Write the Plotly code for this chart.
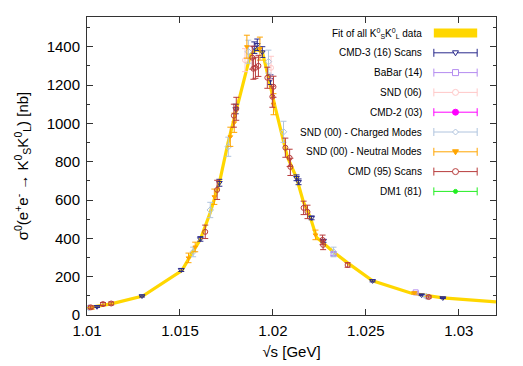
import plotly.graph_objects as go

# fit of all K0S K0L data
fit_x = [1.0100, 1.0103, 1.0113, 1.0130, 1.0151, 1.01555, 1.0161, 1.01663, 1.01712, 1.0176,
         1.01809, 1.01879, 1.0191, 1.01943, 1.01976, 1.02013, 1.02078, 1.02127, 1.02164,
         1.02202, 1.02235, 1.02267, 1.02326, 1.02402, 1.02536, 1.02741, 1.02914, 1.0320]
fit_y = [37, 42, 58, 99, 232, 306, 395, 535, 690, 905, 1087, 1358, 1385, 1374, 1238, 1081,
         825, 716, 590, 507, 405, 378, 329, 272, 178, 115, 89, 68]

# CMD-3 (16) scans
cmd3_x = [1.01054, 1.01296, 1.01507, 1.01610, 1.01712, 1.01800, 1.01900, 1.01916, 1.01943,
          1.01987, 1.02127, 1.02138, 1.02208, 1.02272, 1.02536, 1.02800, 1.02914]
cmd3_y = [43, 99, 235, 397, 690, 1075, 1395, 1410, 1372, 1228, 716, 695, 507, 387, 178, 104, 89]
cmd3_err = [4, 5, 8, 12, 18, 25, 30, 30, 28, 25, 15, 15, 10, 8, 5, 3, 3]

# BaBar (14)
babar_x = [1.02326, 1.02768]
babar_y = [318, 118]
babar_err = [8, 4]

# SND (06)
snd06_x = [1.01850, 1.01990]
snd06_y = [1330, 1290]
snd06_err = [60, 60]

# CMD-2 (03) and DM1 (81): no points visible in the plotted range
cmd2_x, cmd2_y, cmd2_err = [], [], []
dm1_x, dm1_y, dm1_err = [], [], []

# SND (00) charged modes
sndc_x = [1.01010, 1.01571, 1.01663, 1.01760, 1.01868, 1.01976, 1.02057, 1.02326, 1.02826]
sndc_y = [38, 329, 548, 878, 1374, 1322, 956, 329, 96]
sndc_err = [6, 25, 40, 50, 60, 60, 55, 25, 6]

# SND (00) neutral modes
sndn_x = [1.01025, 1.01546, 1.01582, 1.01685, 1.01771, 1.01792, 1.01860, 1.01930, 1.02003,
          1.02229, 1.02760]
sndn_y = [36, 298, 355, 617, 930, 1003, 1400, 1390, 1100, 418, 115]
sndn_err = [6, 25, 25, 40, 50, 50, 60, 60, 55, 25, 6]

# CMD (95) scans
cmd95_x = [1.01020, 1.01086, 1.01130, 1.01636, 1.01700, 1.01790, 1.01803, 1.01889, 1.01895,
           1.01906, 1.01922, 1.01970, 1.01997, 1.02003, 1.02067, 1.02090, 1.02094, 1.02165,
           1.02186, 1.02267, 1.02270, 1.02402, 1.02838]
cmd95_y = [40, 57, 60, 434, 653, 1040, 1076, 1343, 1285, 1290, 1300, 1238, 1139, 1191, 873,
           820, 773, 559, 538, 392, 366, 261, 94]
cmd95_err = [8, 8, 8, 35, 50, 60, 60, 60, 55, 55, 55, 55, 55, 55, 50, 45, 45, 35, 35, 25, 25,
             12, 6]

x_ticks = [1.01, 1.015, 1.02, 1.025, 1.03]
x_tick_labels = ["1.01", "1.015", "1.02", "1.025", "1.03"]
y_ticks = [0, 200, 400, 600, 800, 1000, 1200, 1400]
y_tick_labels = ["0", "200", "400", "600", "800", "1000", "1200", "1400"]

FIT_COLOR = "#ffd700"

# name, x, y, err, colour, symbol, marker size, legend marker kind
series = [
    ("CMD-3 (16) Scans", cmd3_x, cmd3_y, cmd3_err, "#2a2a8c", "triangle-down-open", 5, "tri_open"),
    ("BaBar (14)", babar_x, babar_y, babar_err, "#b48cf0", "square-open", 5, "square"),
    ("SND (06)", snd06_x, snd06_y, snd06_err, "#ffc8c8", "circle-open", 5, "circle_open"),
    ("CMD-2 (03)", cmd2_x, cmd2_y, cmd2_err, "#ff00ff", "circle", 5, "circle_fill"),
    ("SND (00) - Charged Modes", sndc_x, sndc_y, sndc_err, "#b0c4de", "diamond-open", 5, "diamond"),
    ("SND (00) - Neutral Modes", sndn_x, sndn_y, sndn_err, "#ffa500", "triangle-down", 4, "tri_fill"),
    ("CMD (95) Scans", cmd95_x, cmd95_y, cmd95_err, "#b83c3c", "circle-open", 5, "circle_open"),
    ("DM1 (81)", dm1_x, dm1_y, dm1_err, "#22ee22", "circle", 4, "dot"),
]

fig = go.Figure()

# gold fit band
fig.add_trace(go.Scatter(x=fit_x, y=fit_y, mode="lines",
                         line=dict(color=FIT_COLOR, width=3.2), showlegend=False,
                         hoverinfo="skip"))

for name, xs, ys, errs, color, symbol, size, _ in series:
    if not xs:
        continue
    fig.add_trace(go.Scatter(
        x=xs, y=ys, mode="markers", name=name, showlegend=False,
        marker=dict(symbol=symbol, size=size, color=color, line=dict(color=color, width=1)),
        error_y=dict(type="data", array=errs, color=color, thickness=1, width=3),
    ))

# gnuplot-style key: text on the left, error-bar sample on the right
plot_top, plot_bottom = 17, 315
def row_y(i):
    return (plot_bottom - (33 + 19.8 * i)) / (plot_bottom - plot_top)

x_text, x_l, x_r, x_m = 0.824, 0.848, 0.954, 0.901
shapes = []
annotations = []

annotations.append(dict(
    x=x_text, y=row_y(0), xref="paper", yref="paper", xanchor="right", yanchor="middle",
    text="Fit of all K<sup>0</sup><sub>S</sub>K<sup>0</sup><sub>L</sub> data",
    showarrow=False, font=dict(size=10, color="#000")))
shapes.append(dict(type="rect", xref="paper", yref="paper", x0=x_l, x1=x_r,
                   ysizemode="pixel", yanchor=row_y(0), y0=-4.5, y1=4.5,
                   fillcolor=FIT_COLOR, line=dict(width=0)))

marker_paths = {
    "tri_open": "M-3,2L3,2L0,-3Z",
    "tri_fill": "M-3,2L3,2L0,-3Z",
    "square": "M-3,-3L3,-3L3,3L-3,3Z",
    "diamond": "M0,-3L3,0L0,3L-3,0Z",
}

for i, (name, _, _, _, color, _, _, kind) in enumerate(series, start=1):
    yy = row_y(i)
    annotations.append(dict(x=x_text, y=yy, xref="paper", yref="paper", xanchor="right",
                            yanchor="middle", text=name, showarrow=False,
                            font=dict(size=10, color="#000")))
    shapes.append(dict(type="line", xref="paper", yref="paper", x0=x_l, x1=x_r, y0=yy, y1=yy,
                       line=dict(color=color, width=1)))
    for xc in (x_l, x_r):
        shapes.append(dict(type="line", xref="paper", yref="paper", x0=xc, x1=xc,
                           ysizemode="pixel", yanchor=yy, y0=-4, y1=4,
                           line=dict(color=color, width=1)))
    base = dict(xref="paper", yref="paper", xsizemode="pixel", ysizemode="pixel",
                xanchor=x_m, yanchor=yy)
    if kind in marker_paths:
        fill = color if kind == "tri_fill" else "white"
        shapes.append(dict(type="path", path=marker_paths[kind], fillcolor=fill,
                           line=dict(color=color, width=1), **base))
    else:
        r = 2 if kind == "dot" else 3
        fill = "white" if kind == "circle_open" else color
        shapes.append(dict(type="circle", x0=-r, x1=r, y0=-r, y1=r, fillcolor=fill,
                           line=dict(color=color, width=1), **base))

axis_common = dict(showgrid=False, zeroline=False, showline=True, linecolor="#333",
                   linewidth=1, mirror="ticks", ticks="inside", tickcolor="#333",
                   ticklen=6, tickfont=dict(size=15, color="#000"), automargin=False)

# the page body adds an 8px offset, so the margins are shifted to keep the plot box in place
fig.update_layout(
    width=523, height=366,
    margin=dict(l=79, r=35, t=9, b=59),
    paper_bgcolor="white", plot_bgcolor="white",
    font=dict(family="Liberation Sans, Arial, sans-serif", color="#000"),
    showlegend=False,
    shapes=shapes, annotations=annotations,
    xaxis=dict(range=[1.01, 1.032], tickvals=x_ticks, ticktext=x_tick_labels,
               ticklabelstandoff=2,
               title=dict(text="√s [GeV]", font=dict(size=15), standoff=8),
               **axis_common),
    yaxis=dict(range=[0, 1555], tickvals=y_ticks, ticktext=y_tick_labels,
               ticklabelstandoff=3,
               minor=dict(ticks="inside", ticklen=3, dtick=100, tickcolor="#333"),
               title=dict(text="σ<sup>0</sup>(e<sup>+</sup>e<sup>-</sup> → K<sup>0</sup><sub>S</sub>K<sup>0</sup><sub>L</sub>) [nb]",
                          font=dict(size=15), standoff=14),
               **axis_common),
)

fig.write_html("out.html")
